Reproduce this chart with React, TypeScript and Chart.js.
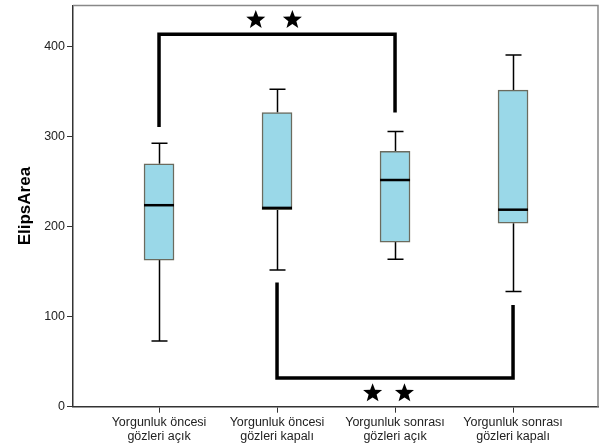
import React, { useEffect, useRef } from "react";
import { Chart, registerables } from "chart.js";

Chart.register(...registerables);

const categories: string[][] = [
  ["Yorgunluk öncesi", "gözleri açık"],
  ["Yorgunluk öncesi", "gözleri kapalı"],
  ["Yorgunluk sonrası", "gözleri açık"],
  ["Yorgunluk sonrası", "gözleri kapalı"],
];
const whiskerLow = [73, 152, 164, 128];
const q1 = [163, 219, 183, 204];
const median = [224, 221, 252, 219];
const q3 = [270, 327, 284, 352];
const whiskerHigh = [293, 353, 306, 391];

const yTicks = [0, 100, 200, 300, 400];
const yTitle = "ElipsArea";

// significance brackets (category index, value)
const bracketTop = [
  { x: 0, y: 311 },
  { x: 0, y: 414 },
  { x: 2, y: 414 },
  { x: 2, y: 327 },
];
const bracketBottom = [
  { x: 1, y: 138 },
  { x: 1, y: 32 },
  { x: 3, y: 32 },
  { x: 3, y: 113 },
];
const starX = [0.82, 1.13, 1.81, 2.08];
const starY = [430, 430, 15, 15];

const FONT = "Arial, 'Liberation Sans', sans-serif";

function drawStar(ctx: CanvasRenderingContext2D, cx: number, cy: number, r: number) {
  const inner = r * 0.42;
  ctx.beginPath();
  for (let i = 0; i < 10; i++) {
    const rad = i % 2 === 0 ? r : inner;
    const a = -Math.PI / 2 + (i * Math.PI) / 5;
    const px = cx + rad * Math.cos(a);
    const py = cy + rad * Math.sin(a);
    if (i === 0) ctx.moveTo(px, py);
    else ctx.lineTo(px, py);
  }
  ctx.closePath();
  ctx.fill();
}

const boxPlugin = {
  id: "boxExtras",
  beforeDatasetsDraw(chart: any) {
    const { ctx, scales } = chart;
    const xs = scales.x;
    const ys = scales.y;
    ctx.save();
    ctx.strokeStyle = "#000";
    ctx.lineWidth = 1.5;
    for (let i = 0; i < categories.length; i++) {
      const cx = Math.round(xs.getPixelForValue(i)) + 0.5;
      const lo = ys.getPixelForValue(whiskerLow[i]);
      const hi = ys.getPixelForValue(whiskerHigh[i]);
      const b1 = ys.getPixelForValue(q1[i]);
      const b3 = ys.getPixelForValue(q3[i]);
      ctx.beginPath();
      ctx.moveTo(cx, hi);
      ctx.lineTo(cx, b3);
      ctx.moveTo(cx, b1);
      ctx.lineTo(cx, lo);
      ctx.moveTo(cx - 8, hi);
      ctx.lineTo(cx + 8, hi);
      ctx.moveTo(cx - 8, lo);
      ctx.lineTo(cx + 8, lo);
      ctx.stroke();
    }
    ctx.restore();
  },
  afterDatasetsDraw(chart: any) {
    const { ctx, scales, chartArea } = chart;
    const xs = scales.x;
    const ys = scales.y;
    ctx.save();
    ctx.strokeStyle = "#000";
    ctx.lineWidth = 2.5;
    for (let i = 0; i < categories.length; i++) {
      const cx = xs.getPixelForValue(i);
      const m = ys.getPixelForValue(median[i]);
      ctx.beginPath();
      ctx.moveTo(cx - 15, m);
      ctx.lineTo(cx + 15, m);
      ctx.stroke();
    }
    ctx.fillStyle = "#000";
    for (let i = 0; i < starX.length; i++) {
      drawStar(ctx, xs.getPixelForValue(starX[i]), ys.getPixelForValue(starY[i]), 10);
    }
    // top & right frame
    ctx.strokeStyle = "#888";
    ctx.lineWidth = 1.5;
    ctx.beginPath();
    ctx.moveTo(chartArea.left, chartArea.top);
    ctx.lineTo(chartArea.right, chartArea.top);
    ctx.lineTo(chartArea.right, chartArea.bottom);
    ctx.stroke();
    ctx.restore();
  },
};

export default function App() {
  const ref = useRef<HTMLCanvasElement | null>(null);
  useEffect(() => {
    if (!ref.current) return;
    const chart = new Chart(ref.current, {
      type: "bar",
      data: {
        datasets: [
          {
            type: "bar",
            data: categories.map((_, i) => ({ x: i, y: [q1[i], q3[i]] })) as any,
            backgroundColor: "#9AD8E8",
            borderColor: "#6b6b5e",
            borderWidth: 1.5,
            borderSkipped: false,
            barThickness: 30,
          } as any,
          {
            type: "line",
            data: bracketTop as any,
            borderColor: "#000",
            borderWidth: 3.5,
            pointRadius: 0,
            fill: false,
            tension: 0,
            borderJoinStyle: "miter",
            borderCapStyle: "butt",
          } as any,
          {
            type: "line",
            data: bracketBottom as any,
            borderColor: "#000",
            borderWidth: 3.5,
            pointRadius: 0,
            fill: false,
            tension: 0,
            borderJoinStyle: "miter",
            borderCapStyle: "butt",
          } as any,
        ],
      },
      options: {
        animation: false,
        responsive: false,
        layout: { padding: { left: 0, top: 5.5, right: 1, bottom: 0 } },
        plugins: { legend: { display: false }, tooltip: { enabled: false } },
        scales: {
          x: {
            type: "linear",
            offset: false,
            min: -0.729,
            max: 3.72,
            afterBuildTicks: (s: any) => {
              s.ticks = categories.map((_, i) => ({ value: i }));
            },
            afterFit: (s: any) => {
              s.height = 41.3;
              s.paddingLeft = 0;
              s.paddingRight = 0;
            },
            grid: { offset: false, drawOnChartArea: false, drawTicks: true, tickLength: 6, color: "#333" },
            border: { display: true, color: "#333", width: 1.5 },
            ticks: {
              autoSkip: false,
              maxRotation: 0,
              padding: 3,
              color: "#222",
              font: { family: FONT, size: 12.5, lineHeight: 1.12 },
              callback: (v: any) => categories[Math.round(Number(v))] ?? "",
            },
          },
          y: {
            type: "linear",
            min: 0,
            max: 446,
            afterBuildTicks: (s: any) => {
              s.ticks = yTicks.map((v) => ({ value: v }));
            },
            afterFit: (s: any) => {
              s.width = 73;
              s.paddingTop = 0;
              s.paddingBottom = 0;
            },
            grid: { drawOnChartArea: false, drawTicks: true, tickLength: 6, color: "#333" },
            border: { display: true, color: "#333", width: 1.5 },
            ticks: {
              padding: 2,
              color: "#222",
              font: { family: FONT, size: 12.5 },
            },
            title: {
              display: true,
              text: yTitle,
              color: "#000",
              font: { family: FONT, size: 17, weight: "bold" },
              padding: { top: 15, bottom: 0 },
            },
          },
        },
      },
      plugins: [boxPlugin],
    });
    return () => chart.destroy();
  }, []);
  return (
    <div style={{ position: "fixed", left: 0, top: 0, width: 599, height: 448, background: "#fff" }}>
      <canvas ref={ref} width={599} height={448} style={{ display: "block" }} />
    </div>
  );
}
